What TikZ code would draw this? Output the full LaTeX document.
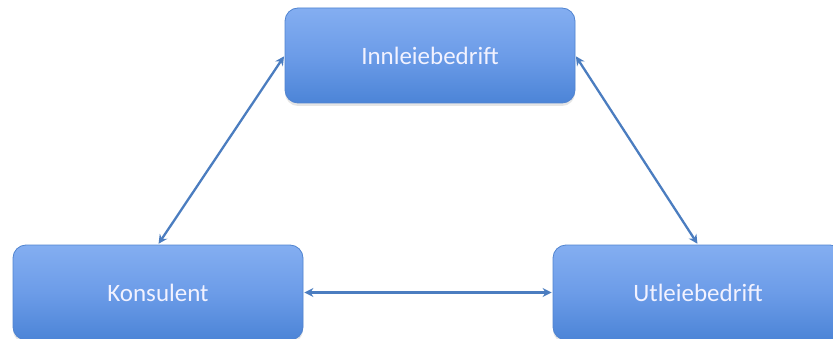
\documentclass[tikz,border=0pt]{standalone}
\usepackage{fontspec}
\setmainfont{Carlito}
\usetikzlibrary{arrows.meta,shadows}
\definecolor{boxtop}{HTML}{84AEF1}
\definecolor{boxmid}{HTML}{6C9CE8}
\definecolor{boxbot}{HTML}{4C84D7}
\definecolor{boxline}{HTML}{5084D0}
\definecolor{arrowc}{HTML}{4B7DC0}
\tikzset{
  entity/.style={rectangle, rounded corners=13pt, minimum width=290pt, minimum height=95pt,
    top color=boxtop, bottom color=boxbot, middle color=boxmid, draw=boxline, line width=0.8pt,
    text=white!95!blue, font=\fontsize{25}{29}\selectfont, inner sep=0pt,
    drop shadow={opacity=0.2, shadow xshift=0pt, shadow yshift=-3pt}},
  link/.style={arrowc, line width=2.3pt, {Stealth[length=9pt,width=9pt,inset=3pt]}-{Stealth[length=9pt,width=9pt,inset=3pt]}, shorten <=1pt, shorten >=1pt}
}
\begin{document}
\begin{tikzpicture}[x=1pt,y=1pt]
\useasboundingbox (0,0) rectangle (833,338);
\clip (0,0) rectangle (833,338);
\fill[white] (0,0) rectangle (833,338);
\node[entity] (inn) at (430,282.5) {Innleiebedrift};
\node[entity] (kon) at (158,45.5) {Konsulent};
\node[entity] (utl) at (698,45.5) {Utleiebedrift};
\draw[link] (inn.west) -- (kon.north);
\draw[link] (inn.east) -- (utl.north);
\draw[link] (kon.east) -- (utl.west);
\end{tikzpicture}
\end{document}
